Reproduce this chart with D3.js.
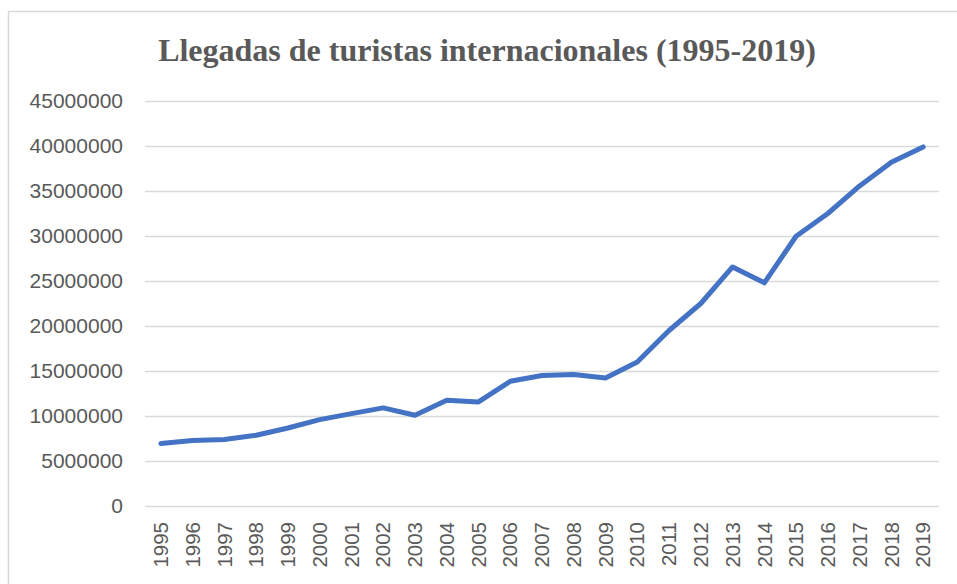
<!DOCTYPE html>
<html>
<head>
<meta charset="utf-8">
<script src="https://cdn.jsdelivr.net/npm/d3@7"></script>
<style>
  body { margin: 0; background: #fff; }
  svg { display: block; }
</style>
</head>
<body>
<svg id="chart"></svg>
<script>
// data
var years = ['1995','1996','1997','1998','1999','2000','2001','2002','2003','2004','2005','2006',
             '2007','2008','2009','2010','2011','2012','2013','2014','2015','2016','2017','2018','2019'];
var arrivals = [6950000, 7270000, 7380000, 7860000, 8670000, 9600000, 10260000, 10900000, 10080000,
                11740000, 11560000, 13860000, 14500000, 14600000, 14220000, 16000000, 19500000,
                22500000, 26560000, 24800000, 29970000, 32500000, 35560000, 38200000, 39900000];
var yTicks = [0, 5000000, 10000000, 15000000, 20000000, 25000000, 30000000, 35000000, 40000000, 45000000];
var title = 'Llegadas de turistas internacionales (1995-2019)';

var width = 957, height = 584;
var plot = {left: 145, right: 939, top: 101, bottom: 506};

var svg = d3.select('#chart').attr('width', width).attr('height', height);

// chart frame, runs off the right and bottom edge like the original
svg.append('rect')
  .attr('x', 8.5).attr('y', 11.5)
  .attr('width', width + 20).attr('height', height + 20)
  .attr('fill', '#fff')
  .attr('stroke', '#d9d9d9')
  .attr('stroke-width', 1.5);

var x = d3.scaleBand().domain(years).range([plot.left, plot.right]);
var y = d3.scaleLinear().domain([0, 45000000]).range([plot.bottom, plot.top]);

// gridlines
svg.append('g').selectAll('line').data(yTicks).enter().append('line')
  .attr('x1', plot.left).attr('x2', plot.right)
  .attr('y1', function(d) { return Math.round(y(d)) + 0.5; })
  .attr('y2', function(d) { return Math.round(y(d)) + 0.5; })
  .attr('stroke', '#d9d9d9')
  .attr('stroke-width', 1.5);

// y axis labels
var yAxis = svg.append('g')
  .attr('transform', 'translate(' + (plot.left - 22) + ',0)')
  .call(d3.axisLeft(y).tickValues(yTicks).tickSize(0).tickPadding(0).tickFormat(d3.format('d')));
yAxis.select('.domain').remove();
yAxis.selectAll('text')
  .attr('fill', '#595959')
  .style('font-family', '"Liberation Sans", Arial, sans-serif')
  .style('font-size', '21px');

// x axis labels, rotated
var xAxis = svg.append('g')
  .attr('transform', 'translate(0,' + plot.bottom + ')')
  .call(d3.axisBottom(x).tickSize(0).tickPadding(0));
xAxis.select('.domain').remove();
xAxis.selectAll('text')
  .attr('fill', '#595959')
  .attr('transform', 'rotate(-90)')
  .attr('text-anchor', 'end')
  .attr('x', -16)
  .attr('y', 0)
  .attr('dy', '0.35em')
  .style('font-family', '"Liberation Sans", Arial, sans-serif')
  .style('font-size', '20.5px');

// the series line
var line = d3.line()
  .x(function(d, i) { return x(years[i]) + x.bandwidth() / 2; })
  .y(function(d) { return y(d); });

svg.append('path')
  .datum(arrivals)
  .attr('d', line)
  .attr('fill', 'none')
  .attr('stroke', '#4472c4')
  .attr('stroke-width', 5)
  .attr('stroke-linecap', 'round')
  .attr('stroke-linejoin', 'round');

// title
svg.append('text')
  .attr('x', 487)
  .attr('y', 61)
  .attr('text-anchor', 'middle')
  .attr('fill', '#595959')
  .style('font-family', '"Liberation Serif", "Times New Roman", serif')
  .style('font-weight', 'bold')
  .style('font-size', '32px')
  .text(title);
</script>
</body>
</html>
